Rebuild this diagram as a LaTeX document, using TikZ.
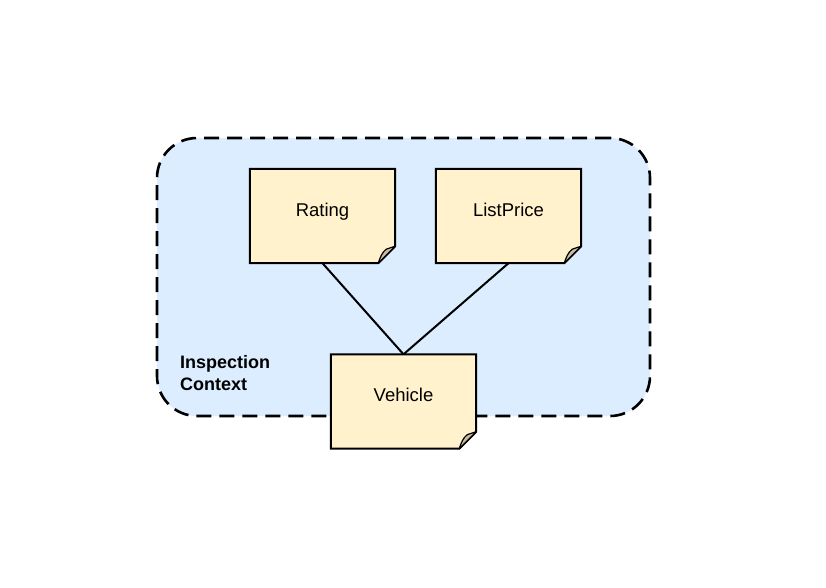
\documentclass[tikz,border=0pt]{standalone}
\usepackage{fontspec}
\setmainfont{Liberation Sans}
\definecolor{ctxfill}{HTML}{DBEDFE}
\definecolor{notefill}{HTML}{FFF2CC}
\definecolor{foldfill}{HTML}{C9BB9F}
\begin{document}
\begin{tikzpicture}[x=1pt,y=-1pt,
  ctx/.style={draw=black,fill=ctxfill,line width=2.6pt,dash pattern=on 15pt off 8pt,rounded corners=40pt,minimum width=493pt,minimum height=278pt,inner sep=0pt},
  notebox/.style={draw=none,fill=none,minimum width=145pt,minimum height=94pt,inner sep=0pt},
  notetext/.style={inner sep=0pt,text height=13pt,text depth=4pt,font=\fontsize{18.5}{22}\selectfont},
  noteline/.style={draw=black,fill=notefill,line width=2pt,line join=miter},
  foldline/.style={draw=black,fill=foldfill,line width=1.2pt,line join=round},
  conn/.style={draw=black,line width=2pt},
  lbl/.style={font=\fontsize{18}{22}\bfseries\selectfont,align=left,inner sep=0pt}]
\useasboundingbox (0,0) rectangle (826,587);
\node[ctx] (ctx) at (403.5,277) {};
\node[lbl,anchor=north west] (lab) at (180,355) {Inspection\\Context};
\node[notebox] (rating) at (322.5,216) {};
\node[notebox] (list) at (508.5,216) {};
\node[notebox] (veh) at (403.5,401.5) {};
\draw[conn] (rating.south) -- (veh.north);
\draw[conn] (list.south) -- (veh.north);
\foreach \n/\t in {rating/Rating,list/ListPrice,veh/Vehicle}{
  \draw[noteline] (\n.north west) -- (\n.north east) -- ([yshift=17pt]\n.south east) -- ([xshift=-17pt]\n.south east) -- (\n.south west) -- cycle;
  \draw[foldline] ([yshift=17pt]\n.south east) -- ([xshift=-9pt,yshift=14pt]\n.south east) .. controls ([xshift=-13pt,yshift=11pt]\n.south east) and ([xshift=-15pt,yshift=6pt]\n.south east) .. ([xshift=-17pt]\n.south east) -- cycle;
  \node[notetext] (\n-t) at ([yshift=4.5pt]\n.center) {\t};
}
\end{tikzpicture}
\end{document}
